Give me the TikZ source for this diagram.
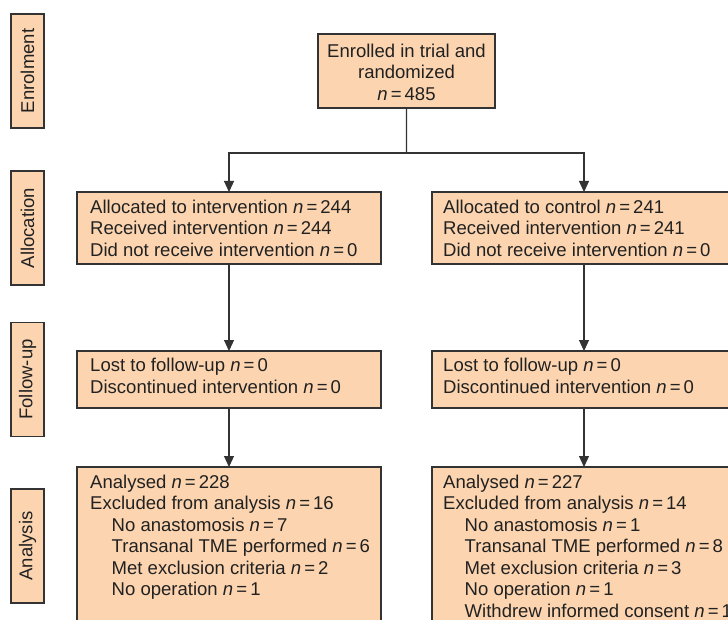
\documentclass[tikz,border=0pt]{standalone}
\usepackage{fontspec}
\setmainfont{Liberation Sans}
\usetikzlibrary{arrows.meta}
\definecolor{peach}{RGB}{252,213,176}
\definecolor{edgecol}{RGB}{51,51,51}
\newcommand\nval[1]{\textit{n}\,=\,#1}
\newcommand\ind{\hspace*{21.5bp}}
\tikzset{
  flowbox/.style={draw=edgecol, line width=1.2bp, fill=peach, inner sep=0pt, outer sep=0pt, anchor=north west},
  txt/.style={font=\fontsize{18.6}{21.6}\selectfont, text=black!87, align=left, inner sep=0pt, anchor=north west},
  sidebox/.style={draw=edgecol, line width=1.2bp, fill=peach, inner sep=0pt, minimum width=114bp, minimum height=33bp, rotate=90, font=\fontsize{18.6}{21.6}\selectfont, text=black!87},
  link/.style={draw=edgecol, line width=1.2bp},
  arr/.style={link, -{Triangle[width=10bp,length=11bp]}},
}
\begin{document}
\begin{tikzpicture}[x=1bp,y=-1bp]
\useasboundingbox (0,0) rectangle (728,620);
% side labels
\node[sidebox] (sEnrol) at (27.5,71) {Enrolment};
\node[sidebox] (sAlloc) at (27.5,228) {Allocation};
\node[sidebox] (sFollow) at (27.5,379.5) {Follow-up};
\node[sidebox] (sAnal) at (27.5,546) {Analysis};
% boxes
\node[flowbox, minimum width=177bp, minimum height=74bp] (top) at (318,34) {};
\node[txt, anchor=north, align=center] (topT) at ([yshift=-9.5bp]top.north) {Enrolled in trial and\\randomized\\\nval{485}};

\node[flowbox, minimum width=304bp, minimum height=72bp] (allocL) at (77,192) {};
\node[flowbox, minimum width=304bp, minimum height=72bp] (allocR) at (432,192) {};
\node[txt] (allocLT) at ([xshift=13bp,yshift=-7.5bp]allocL.north west) {Allocated to intervention \nval{244}\\Received intervention \nval{244}\\Did not receive intervention \nval{0}};
\node[txt] (allocRT) at ([xshift=11bp,yshift=-7.5bp]allocR.north west) {Allocated to control \nval{241}\\Received intervention \nval{241}\\Did not receive intervention \nval{0}};

\node[flowbox, minimum width=304bp, minimum height=57bp] (fuL) at (77,351) {};
\node[flowbox, minimum width=304bp, minimum height=57bp] (fuR) at (432,351) {};
\node[txt] (fuLT) at ([xshift=13bp,yshift=-7.2bp]fuL.north west) {Lost to follow-up \nval{0}\\Discontinued intervention \nval{0}};
\node[txt] (fuRT) at ([xshift=11bp,yshift=-7.2bp]fuR.north west) {Lost to follow-up \nval{0}\\Discontinued intervention \nval{0}};

\node[flowbox, minimum width=304bp, minimum height=173bp] (anL) at (77,467) {};
\node[flowbox, minimum width=304bp, minimum height=173bp] (anR) at (432,467) {};
\node[txt] (anLT) at ([xshift=13bp,yshift=-7.5bp]anL.north west) {Analysed \nval{228}\\Excluded from analysis \nval{16}\\\ind No anastomosis \nval{7}\\\ind Transanal TME performed \nval{6}\\\ind Met exclusion criteria \nval{2}\\\ind No operation \nval{1}};
\node[txt] (anRT) at ([xshift=11bp,yshift=-7.5bp]anR.north west) {Analysed \nval{227}\\Excluded from analysis \nval{14}\\\ind No anastomosis \nval{1}\\\ind Transanal TME performed \nval{8}\\\ind Met exclusion criteria \nval{3}\\\ind No operation \nval{1}\\\ind Withdrew informed consent \nval{1}};
% connectors
\coordinate (split) at (406.5,153);
\draw[link] (top.south) -- (split);
\draw[arr] (split) -| (allocL.north);
\draw[arr] (split) -| (allocR.north);
\draw[arr] (allocL.south) -- (fuL.north);
\draw[arr] (allocR.south) -- (fuR.north);
\draw[arr] (fuL.south) -- (anL.north);
\draw[arr] (fuR.south) -- (anR.north);
\end{tikzpicture}
\end{document}
